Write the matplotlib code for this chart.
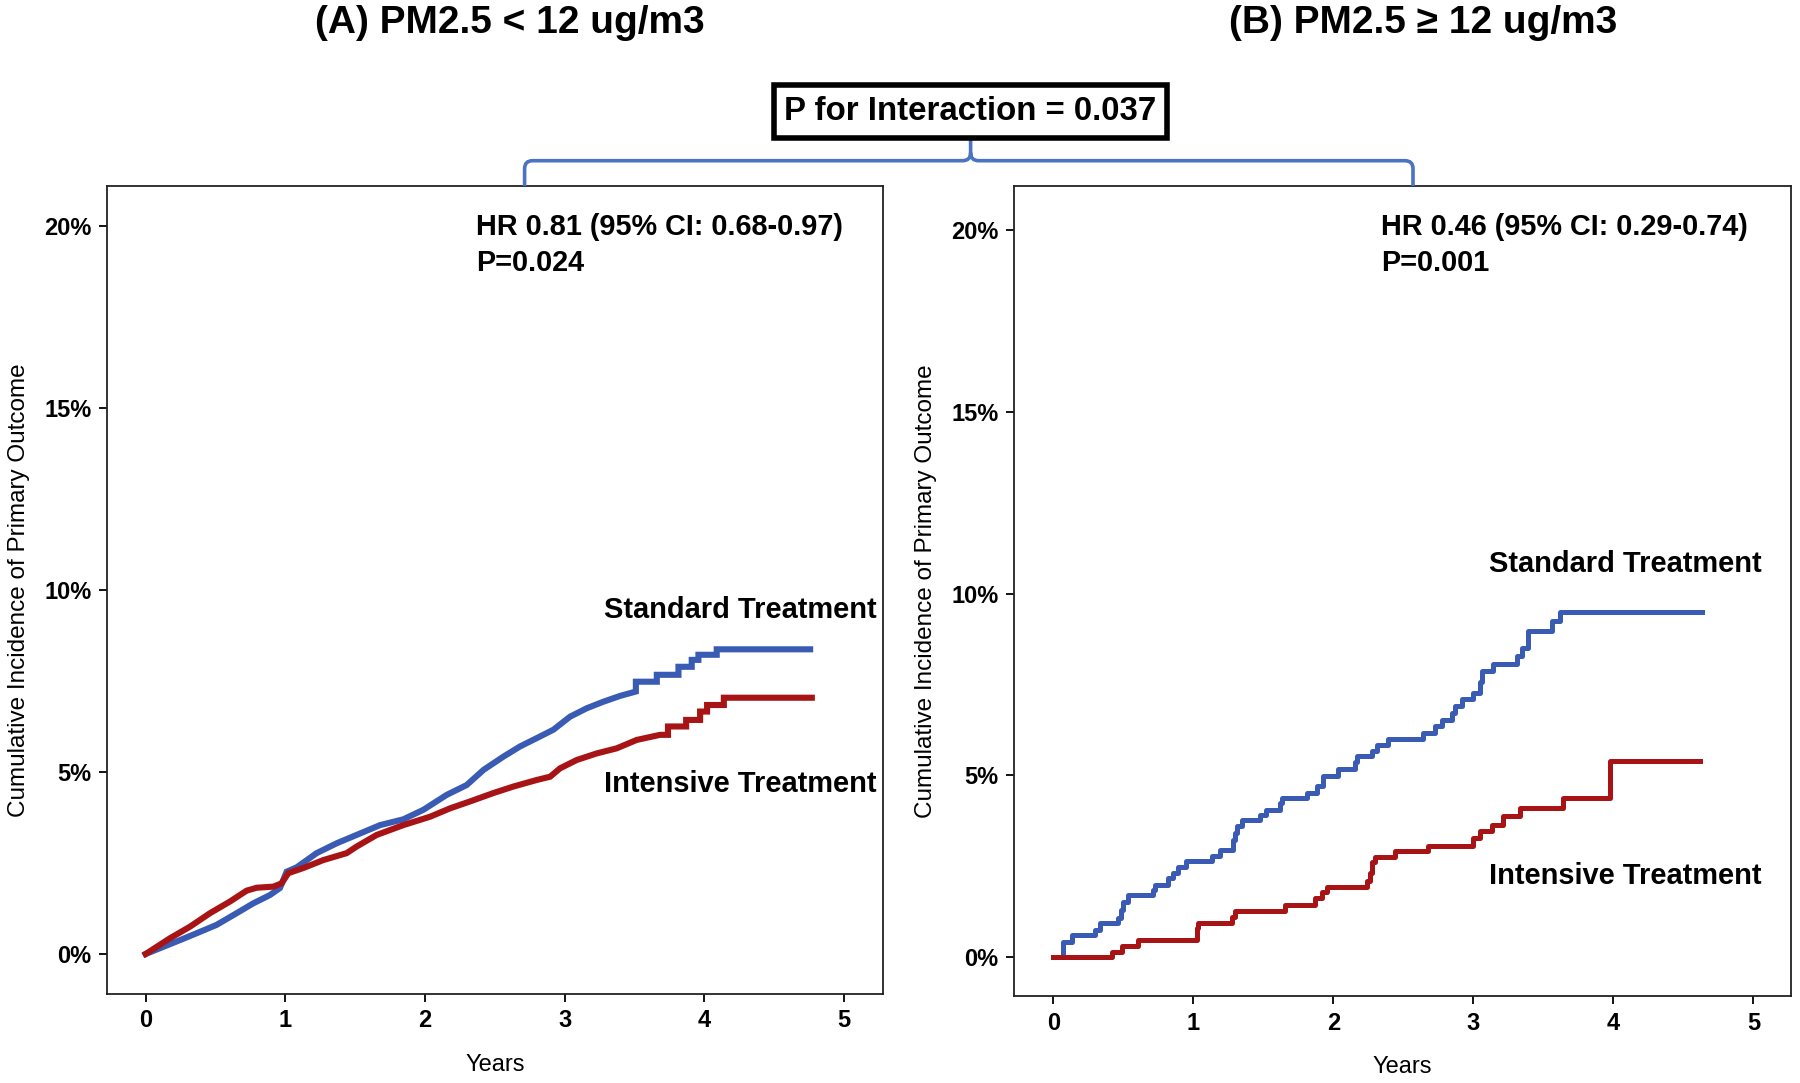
import matplotlib
matplotlib.use("Agg")
import matplotlib.pyplot as plt
from matplotlib.path import Path
from matplotlib.patches import PathPatch

plt.rcParams['font.family'] = ['Liberation Sans', 'DejaVu Sans']

# (A) PM2.5 < 12 ug/m3 -- cumulative incidence (%)
a_std_t = [0.0, 0.245, 0.365, 0.508, 0.651, 0.77, 0.89, 0.961, 1.009, 1.081, 1.224, 1.367,
           1.51, 1.678, 1.845, 1.988, 2.155, 2.298, 2.42, 2.561, 2.68, 2.8, 2.919, 3.039,
           3.158, 3.277, 3.397, 3.51, 3.51, 3.66, 3.66, 3.815, 3.815, 3.91, 3.91, 3.958,
           3.958, 4.089, 4.089, 4.758]
a_std_y = [0.0, 0.38, 0.57, 0.80, 1.12, 1.39, 1.62, 1.81, 2.26, 2.38, 2.77, 3.04,
           3.27, 3.54, 3.70, 3.96, 4.37, 4.64, 5.06, 5.42, 5.70, 5.93, 6.16, 6.52,
           6.75, 6.93, 7.09, 7.21, 7.48, 7.48, 7.67, 7.67, 7.89, 7.89, 8.08, 8.08,
           8.22, 8.22, 8.37, 8.37]
a_int_t = [0.0, 0.173, 0.317, 0.46, 0.603, 0.723, 0.795, 0.914, 0.973, 1.021, 1.128, 1.272,
           1.439, 1.51, 1.654, 1.845, 2.036, 2.179, 2.322, 2.489, 2.633, 2.8, 2.896, 2.967,
           3.087, 3.23, 3.373, 3.516, 3.683, 3.74, 3.74, 3.87, 3.87, 3.97, 3.97, 4.02,
           4.02, 4.14, 4.14, 4.77]
a_int_y = [0.0, 0.43, 0.75, 1.12, 1.44, 1.74, 1.82, 1.85, 1.94, 2.22, 2.36, 2.58,
           2.77, 2.95, 3.27, 3.54, 3.77, 4.00, 4.19, 4.42, 4.60, 4.78, 4.87, 5.10,
           5.33, 5.51, 5.65, 5.88, 6.02, 6.02, 6.25, 6.25, 6.43, 6.43, 6.66, 6.66,
           6.84, 6.84, 7.04, 7.04]

# (B) PM2.5 >= 12 ug/m3 -- step curves (time of event, level after it)
b_std_t = [0.0, 0.071, 0.131, 0.298, 0.333, 0.464, 0.48, 0.50, 0.536, 0.714, 0.726, 0.821,
           0.855, 0.890, 0.95, 1.131, 1.19, 1.286, 1.30, 1.31, 1.345, 1.476, 1.519, 1.619,
           1.631, 1.81, 1.881, 1.929, 2.036, 2.155, 2.167, 2.274, 2.31, 2.39, 2.643, 2.726,
           2.774, 2.846, 2.869, 2.917, 3.0, 3.048, 3.06, 3.143, 3.31, 3.345, 3.393, 3.56,
           3.619, 4.631]
b_std_y = [0.0, 0.43, 0.61, 0.75, 0.94, 1.08, 1.30, 1.53, 1.72, 1.86, 1.99, 2.18,
           2.32, 2.48, 2.64, 2.78, 2.96, 3.23, 3.42, 3.60, 3.77, 3.92, 4.06, 4.23,
           4.38, 4.52, 4.70, 4.98, 5.18, 5.37, 5.53, 5.67, 5.84, 6.01, 6.18, 6.36,
           6.54, 6.73, 6.91, 7.10, 7.28, 7.56, 7.88, 8.06, 8.29, 8.52, 8.98, 9.26,
           9.51, 9.51]
b_int_t = [0.0, 0.417, 0.488, 0.607, 1.024, 1.035, 1.274, 1.298, 1.655, 1.869, 1.917, 1.952,
           2.238, 2.26, 2.274, 2.298, 2.44, 2.679, 3.0, 3.048, 3.131, 3.214, 3.333, 3.643,
           3.976, 4.62]
b_int_y = [0.0, 0.15, 0.32, 0.48, 0.80, 0.95, 1.12, 1.26, 1.44, 1.63, 1.79, 1.93,
           2.09, 2.32, 2.61, 2.75, 2.91, 3.05, 3.28, 3.46, 3.65, 3.88, 4.11, 4.38,
           5.39, 5.39]

titles = ["(A) PM2.5 < 12 ug/m3", "(B) PM2.5 \u2265 12 ug/m3"]
hr_text = ["HR 0.81 (95% CI: 0.68-0.97)\nP=0.024", "HR 0.46 (95% CI: 0.29-0.74)\nP=0.001"]
p_interaction = "P for Interaction = 0.037"
y_ticks = [0, 5, 10, 15, 20]
x_ticks = [0, 1, 2, 3, 4, 5]

BLUE = '#3a5bb3'
RED = '#a81416'
BRACE = '#4a73c2'

W, H = 1800, 1083
fig = plt.figure(figsize=(18, 10.83), dpi=100)
ax1 = fig.add_axes([0.0593, 0.082, 0.4312, 0.7463])
ax2 = fig.add_axes([0.5632, 0.0799, 0.4318, 0.7484])

ax1.plot(a_std_t, a_std_y, color=BLUE, lw=4.4, solid_joinstyle='miter')
ax1.plot(a_int_t, a_int_y, color=RED, lw=4.4, solid_joinstyle='miter')
ax2.plot(b_std_t, b_std_y, color=BLUE, lw=3.6, drawstyle='steps-post')
ax2.plot(b_int_t, b_int_y, color=RED, lw=3.6, drawstyle='steps-post')

ax1.set_xlim(-0.279, 5.279)
ax1.set_ylim(-1.105, 21.1)
ax2.set_xlim(-0.283, 5.269)
ax2.set_ylim(-1.08, 21.22)

for ax in (ax1, ax2):
    ax.set_xticks(x_ticks)
    ax.set_yticks(y_ticks)
    ax.set_yticklabels([f"{v}%" for v in y_ticks])
    ax.tick_params(direction='out', length=6, width=1.3, labelsize=17, pad=5)
    for lab in ax.get_xticklabels() + ax.get_yticklabels():
        lab.set_fontweight('bold')
    for s in ax.spines.values():
        s.set_linewidth(1.3)
        s.set_color('#222222')
    ax.set_xlabel("Years", fontsize=17)
    ax.set_ylabel("Cumulative Incidence of Primary Outcome", fontsize=17.5)
    ax.xaxis.set_label_coords(0.5, -0.074)
    ax.yaxis.set_label_coords(-0.099, 0.5)

ax1.text(2.368, 19.48, hr_text[0], fontsize=20.8, fontweight='bold', va='center', ha='left',
         linespacing=1.38)
ax2.text(2.341, 19.59, hr_text[1], fontsize=20.8, fontweight='bold', va='center', ha='left',
         linespacing=1.38)
ax1.text(3.281, 9.46, "Standard Treatment", fontsize=20.9, fontweight='bold', va='center')
ax1.text(3.281, 4.67, "Intensive Treatment", fontsize=20.9, fontweight='bold', va='center')
ax2.text(3.112, 10.83, "Standard Treatment", fontsize=20.9, fontweight='bold', va='center')
ax2.text(3.112, 2.24, "Intensive Treatment", fontsize=20.9, fontweight='bold', va='center')

fig.text(510 / W, 1 - 23 / H, titles[0], fontsize=28, fontweight='bold', ha='center', va='center')
fig.text(1423 / W, 1 - 23 / H, titles[1], fontsize=28, fontweight='bold', ha='center', va='center')

fig.text(970.6 / W, 1 - 111.5 / H, p_interaction, fontsize=23.8, fontweight='bold',
         ha='center', va='center',
         bbox=dict(boxstyle='square,pad=0.32', fc='white', ec='black', lw=4))


# brace joining the two panels to the interaction box
def fp(px, py):
    return (px / W, 1 - py / H)


xl, xc, xr = 524.6, 970.6, 1413.0
yh, ytop, ybox = 160.7, 186.0, 139.0
r = 8.0
verts = [fp(xl, ytop), fp(xl, yh + r), fp(xl, yh), fp(xl + r, yh),
         fp(xc - r, yh), fp(xc, yh), fp(xc, yh - r), fp(xc, ybox),
         fp(xc, yh - r), fp(xc, yh), fp(xc + r, yh),
         fp(xr - r, yh), fp(xr, yh), fp(xr, yh + r), fp(xr, ytop)]
codes = [Path.MOVETO, Path.LINETO, Path.CURVE3, Path.CURVE3,
         Path.LINETO, Path.CURVE3, Path.CURVE3, Path.LINETO,
         Path.MOVETO, Path.CURVE3, Path.CURVE3,
         Path.LINETO, Path.CURVE3, Path.CURVE3, Path.LINETO]
fig.patches.append(PathPatch(Path(verts, codes), fill=False, ec=BRACE, lw=2.6,
                             transform=fig.transFigure, figure=fig))

fig.savefig("out.png", dpi=100)
